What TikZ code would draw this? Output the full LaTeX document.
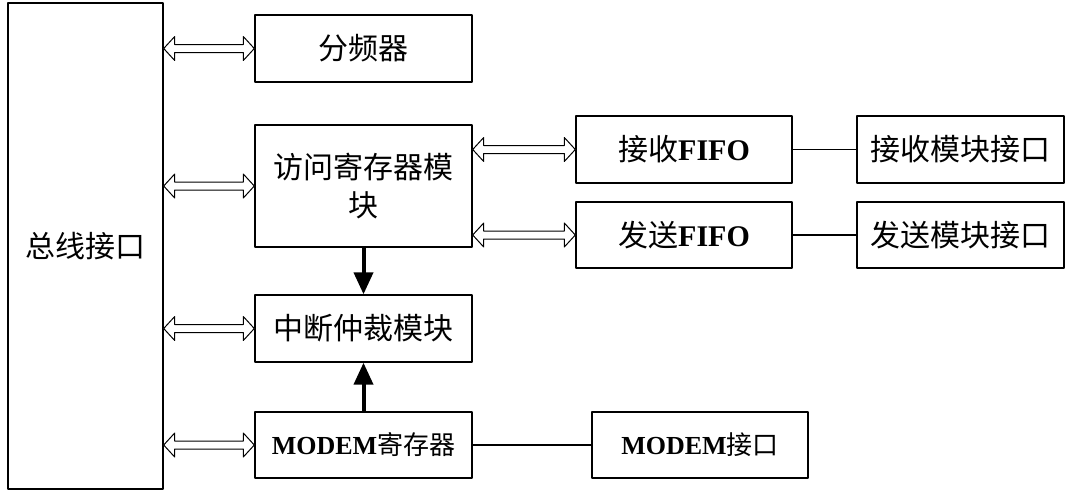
\documentclass[tikz,border=0pt]{standalone}
\usepackage{fontspec}
\setmainfont{Noto Sans CJK SC}
\newfontfamily\tnr{Liberation Serif}
\usetikzlibrary{calc,arrows.meta}

% Dubbele (holle) pijl tussen twee punten op dezelfde hoogte
\newcommand{\dpijl}[2]{%
  \draw[dpijl] (#1) -- ++(11,-12) -- ++(0,8) -- ($(#2)+(-11,-4)$) -- ++(0,-8)
    -- (#2) -- ++(-11,12) -- ++(0,-8) -- ($(#1)+(11,4)$) -- ++(0,8) -- cycle;}

\begin{document}
\begin{tikzpicture}[x=1pt, y=-1pt, line join=round,
    blok/.style={draw, line width=1.4pt, inner sep=0pt, align=center,
      minimum width=217pt, minimum height=67pt,
      font=\fontsize{30}{38}\selectfont},
    klein/.style={font=\fontsize{26}{32}\selectfont},
    dpijl/.style={fill=white, line width=1pt},
    dik/.style={line width=4pt, -{Triangle[length=22pt,width=19pt]}}]

  \useasboundingbox (0,0) rectangle (1067,491);

  % Blokken
  \node[blok, minimum width=155pt, minimum height=486pt] (bus) at (85.5,246) {总线接口};
  \node[blok] (frq) at (363.5,48.5) {分频器};
  \node[blok, minimum height=122pt] (toeg) at (363.5,186) {访问寄存器模\\块};
  \node[blok] (intr) at (363.5,328.5) {中断仲裁模块};
  \node[blok, klein, minimum height=66pt] (mreg) at (363.5,445) {{\tnr\bfseries MODEM}寄存器};

  \node[blok, minimum width=216pt] (rfifo) at (684,149.5) {接收{\tnr\bfseries FIFO}};
  \node[blok, minimum width=216pt, minimum height=66pt] (tfifo) at (684,235) {发送{\tnr\bfseries FIFO}};
  \node[blok, minimum width=207pt] (rif) at (960.5,149.5) {接收模块接口};
  \node[blok, minimum width=207pt, minimum height=66pt] (tif) at (960.5,235) {发送模块接口};
  \node[blok, klein, minimum width=216pt, minimum height=66pt] (mif) at (700,445) {{\tnr\bfseries MODEM}接口};

  % Dubbele pijlen naar de bus
  \foreach \b in {frq,toeg,intr,mreg}
    \dpijl{bus.east |- \b.west}{\b.west};

  % Dubbele pijlen naar de FIFO's
  \dpijl{toeg.east |- rfifo.west}{rfifo.west};
  \dpijl{toeg.east |- tfifo.west}{tfifo.west};

  % Dikke pijlen naar het onderbrekingsblok
  \draw[dik] (toeg.south) -- (intr.north);
  \draw[dik] (mreg.north) -- (intr.south);

  % Verbindingslijnen
  \draw[line width=1.2pt] (rfifo.east) -- (rif.west);
  \draw[line width=1.2pt] (tfifo.east) -- (tif.west);
  \draw[line width=1.2pt] (mreg.east) -- (mif.west);
\end{tikzpicture}
\end{document}
